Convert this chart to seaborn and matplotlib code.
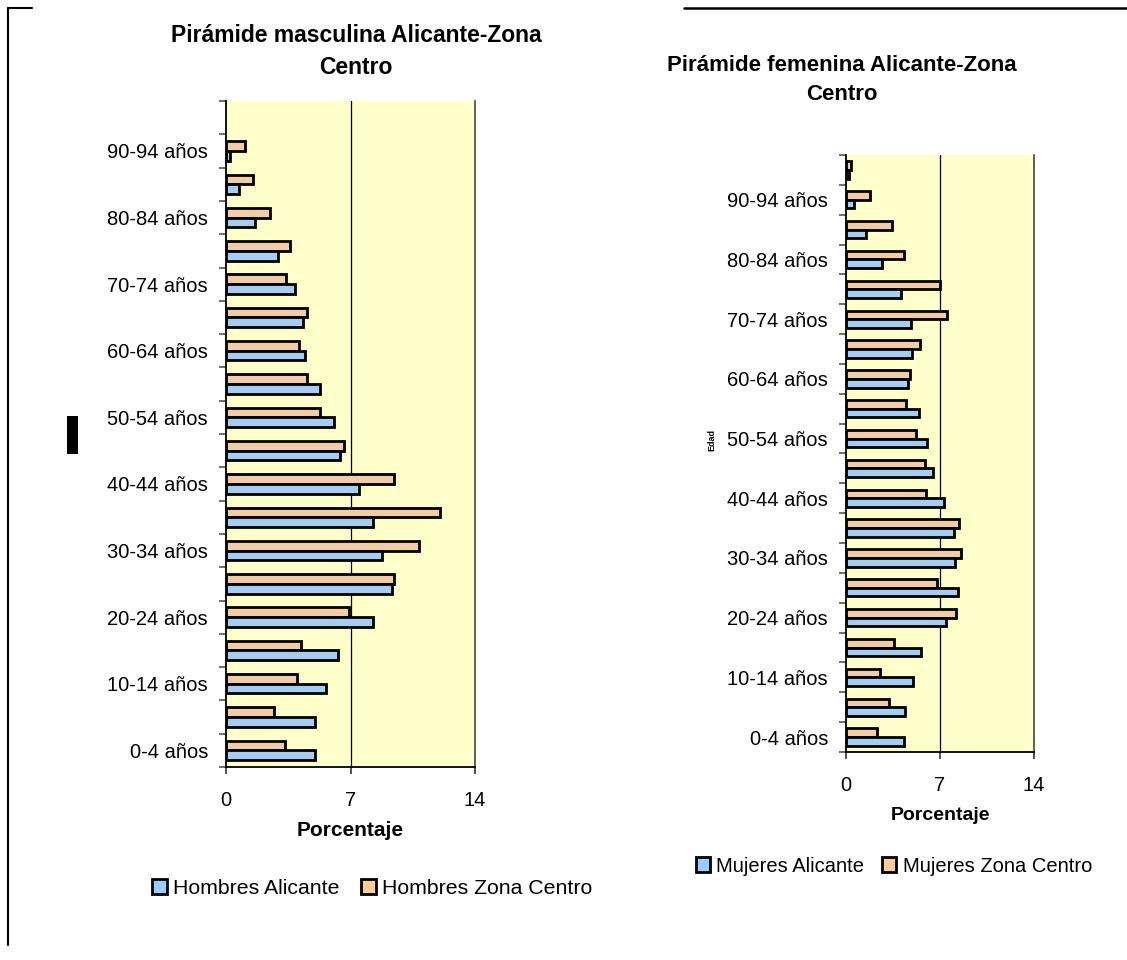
import numpy as np
import pandas as pd
import matplotlib
matplotlib.use("Agg")
import matplotlib.pyplot as plt
import seaborn as sns
from matplotlib.patches import Patch, Rectangle
from matplotlib.lines import Line2D
from matplotlib.transforms import Bbox

sns.set_style("white")
plt.rcParams['font.family'] = ['Liberation Sans', 'DejaVu Sans']
plt.rcParams['text.color'] = 'black'
plt.rcParams['axes.labelcolor'] = 'black'
plt.rcParams['xtick.color'] = 'black'
plt.rcParams['ytick.color'] = 'black'

# Age groups, bottom (0-4) to top (95+)
ages = ["0-4 años", "5-9 años", "10-14 años", "15-19 años", "20-24 años",
        "25-29 años", "30-34 años", "35-39 años", "40-44 años", "45-49 años",
        "50-54 años", "55-59 años", "60-64 años", "65-69 años", "70-74 años",
        "75-79 años", "80-84 años", "85-89 años", "90-94 años", "95 y más años"]

hombres_alicante = [5.02, 5.02, 5.62, 6.31, 8.29, 9.33, 8.76, 8.29, 7.49, 6.42,
                    6.09, 5.26, 4.46, 4.33, 3.86, 2.93, 1.64, 0.71, 0.24, 0.0]
hombres_centro = [3.29, 2.69, 3.98, 4.20, 6.89, 9.46, 10.87, 12.02, 9.46, 6.65,
                  5.26, 4.55, 4.09, 4.55, 3.40, 3.62, 2.46, 1.51, 1.05, 0.0]

mujeres_alicante = [4.33, 4.40, 4.97, 5.60, 7.46, 8.33, 8.11, 8.01, 7.29, 6.49,
                    6.04, 5.47, 4.63, 4.90, 4.82, 4.13, 2.66, 1.49, 0.57, 0.20]
mujeres_centro = [2.31, 3.18, 2.54, 3.58, 8.18, 6.74, 8.58, 8.41, 5.99, 5.87,
                  5.22, 4.50, 4.75, 5.50, 7.54, 7.01, 4.35, 3.46, 1.77, 0.37]

xticks = [0, 7, 14]
labeled_ages = ["0-4 años", "10-14 años", "20-24 años", "30-34 años", "40-44 años",
                "50-54 años", "60-64 años", "70-74 años", "80-84 años", "90-94 años"]

BLUE = "#99CCFF"
ORANGE = "#FFCC99"
YELLOW = "#FFFFCC"

W, H = 1127, 960
fig = plt.figure(figsize=(W / 100, H / 100), dpi=100)


def fx(px):
    return px / W


def fy(py):
    return 1 - py / H


def make_panel(rect, v_ali, v_cen, lab_ali, lab_cen):
    ax = fig.add_axes(rect)
    order = ages[::-1]  # top to bottom
    df = pd.DataFrame({
        "edad": ages + ages,
        "valor": v_ali + v_cen,
        "serie": [lab_ali] * len(ages) + [lab_cen] * len(ages),
    })
    sns.barplot(data=df, y="edad", x="valor", hue="serie", order=order,
                hue_order=[lab_cen, lab_ali],
                palette={lab_ali: BLUE, lab_cen: ORANGE},
                width=0.58, edgecolor="black", linewidth=2.0,
                orient="h", legend=False, ax=ax, zorder=2)
    # hide zero-length bars (no visible mark in the original)
    for p in ax.patches:
        if abs(p.get_width()) < 1e-9:
            p.set_visible(False)
    ax.set_facecolor(YELLOW)
    ax.set_xlim(0, 14)
    ax.set_ylim(len(order) - 0.5, -0.5)
    ax.axvline(7, color="black", lw=0.9, zorder=1)
    ax.set_xticks(xticks)
    ax.set_xticklabels([str(t) for t in xticks])
    pos = [order.index(a) for a in labeled_ages]
    ax.set_yticks(pos)
    ax.set_yticklabels(labeled_ages)
    ax.set_yticks(np.arange(-0.5, len(order), 1), minor=True)
    ax.tick_params(axis="y", which="major", length=0, pad=13, labelsize=14.5, labelcolor="black")
    ax.tick_params(axis="y", which="minor", length=5, width=1.2, color="#555555", left=True)
    ax.tick_params(axis="x", which="major", length=5, width=1.2, color="#333333",
                   pad=12, labelsize=14.5, bottom=True, labelcolor="black")
    ax.set_xlabel("")
    ax.set_ylabel("")
    for s in ["left", "bottom"]:
        ax.spines[s].set_visible(True)
        ax.spines[s].set_color("black")
        ax.spines[s].set_linewidth(1.3)
    ax.spines["right"].set_visible(True)
    ax.spines["right"].set_color("#444444")
    ax.spines["right"].set_linewidth(1.2)
    ax.spines["top"].set_visible(False)
    ax.grid(False)
    return ax


# Left panel (men)
axL = make_panel([fx(226), fy(767), fx(475) - fx(226), fy(101) - fy(767)],
                 hombres_alicante, hombres_centro, "Hombres Alicante", "Hombres Zona Centro")
# Right panel (women)
axR = make_panel([fx(846), fy(752), fx(1034) - fx(846), fy(155) - fy(752)],
                 mujeres_alicante, mujeres_centro, "Mujeres Alicante", "Mujeres Zona Centro")

# Titles
fig.text(fx(356), fy(52), "Pirámide masculina Alicante-Zona\nCentro", ha="center", va="center",
         fontsize=16.5, fontweight="bold", linespacing=1.5)
fig.text(fx(842), fy(80), "Pirámide femenina Alicante-Zona\nCentro", ha="center", va="center",
         fontsize=16, fontweight="bold", linespacing=1.5)

# Axis titles
fig.text(fx(350), fy(831), "Porcentaje", ha="center", va="center", fontsize=15, fontweight="bold")
fig.text(fx(940), fy(816), "Porcentaje", ha="center", va="center", fontsize=14, fontweight="bold")
fig.text(fx(712), fy(440), "Edad", ha="center", va="center", fontsize=6.5, fontweight="bold",
         rotation=90)

# Legends
hL = [Patch(facecolor=BLUE, edgecolor="black", lw=2.0), Patch(facecolor=ORANGE, edgecolor="black", lw=2.0)]
legL = fig.legend(hL, ["Hombres Alicante", "Hombres Zona Centro"], loc="center",
                  bbox_to_anchor=(fx(372), fy(888)), ncol=2, frameon=False, fontsize=15.3,
                  handlelength=0.7, handleheight=0.7, handletextpad=0.3, columnspacing=1.0)
legR = fig.legend(hL, ["Mujeres Alicante", "Mujeres Zona Centro"], loc="center",
                  bbox_to_anchor=(fx(894), fy(866)), ncol=2, frameon=False, fontsize=14.5,
                  handlelength=0.7, handleheight=0.7, handletextpad=0.3, columnspacing=0.9)
clip = Bbox.from_extents(0, 0, 592, H)
t = legL.get_texts()[1]
t.set_clip_box(clip)
t.set_clip_on(True)

# Frame decorations
fig.add_artist(Line2D([fx(8), fx(8)], [fy(8), fy(945)], color="black", lw=1.5, transform=fig.transFigure))
fig.add_artist(Line2D([fx(8), fx(32)], [fy(8), fy(8)], color="black", lw=1.5, transform=fig.transFigure))
fig.add_artist(Line2D([fx(684), fx(1127)], [fy(8), fy(8)], color="black", lw=1.8, transform=fig.transFigure))
fig.add_artist(Rectangle((fx(67), fy(454)), fx(78) - fx(67), fy(416) - fy(454),
                         facecolor="black", edgecolor="none", transform=fig.transFigure))

fig.savefig("out.png", dpi=100, facecolor="white")
